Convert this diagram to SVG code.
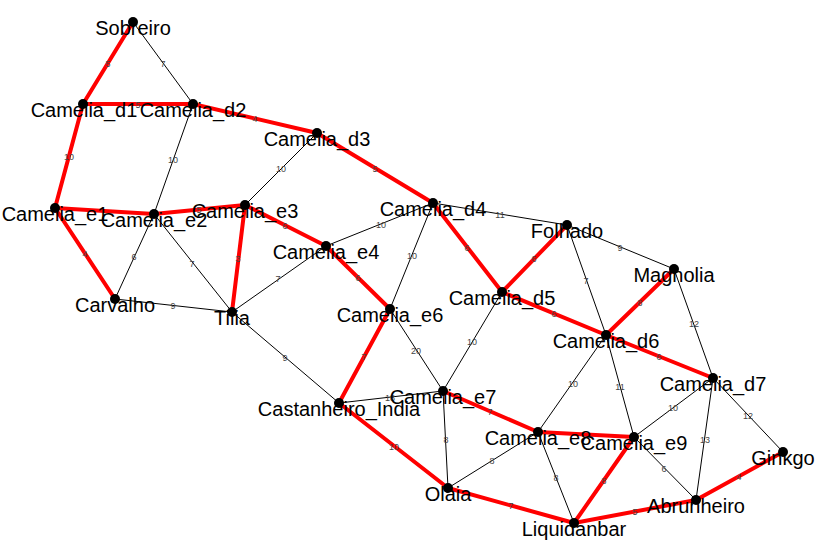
<svg xmlns="http://www.w3.org/2000/svg" width="823" height="543" viewBox="0 0 823 543">
  <style>
    .e { stroke: #000; stroke-width: 1; fill: none; }
    .t { stroke: #ff0000; stroke-width: 4; fill: none; stroke-linecap: round; }
    .w { font-family: "Liberation Sans", Arial, sans-serif; font-size: 9px; fill: #444; text-anchor: middle; }
    .n circle { fill: #000; }
    .n text { font-family: "Liberation Sans", Arial, sans-serif; font-size: 20px; fill: #000; text-anchor: middle; }
  </style>
  <rect width="823" height="543" fill="#fff"/>

  <g id="connectors">
    <!-- plain edges -->
    <line class="e" x1="133" y1="22" x2="193" y2="104"/>
    <line class="e" x1="193" y1="104" x2="154" y2="214"/>
    <line class="e" x1="317" y1="133" x2="245" y2="205"/>
    <line class="e" x1="154" y1="214" x2="115" y2="299"/>
    <line class="e" x1="154" y1="214" x2="232" y2="312"/>
    <line class="e" x1="115" y1="299" x2="232" y2="312"/>
    <line class="e" x1="232" y1="312" x2="326" y2="246"/>
    <line class="e" x1="232" y1="312" x2="339" y2="403"/>
    <line class="e" x1="326" y1="246" x2="433" y2="203"/>
    <line class="e" x1="433" y1="203" x2="390" y2="309"/>
    <line class="e" x1="433" y1="203" x2="567" y2="225"/>
    <line class="e" x1="567" y1="225" x2="674" y2="269"/>
    <line class="e" x1="567" y1="225" x2="606" y2="335"/>
    <line class="e" x1="674" y1="269" x2="713" y2="378"/>
    <line class="e" x1="390" y1="309" x2="443" y2="391"/>
    <line class="e" x1="502" y1="292" x2="443" y2="391"/>
    <line class="e" x1="339" y1="403" x2="443" y2="391"/>
    <line class="e" x1="443" y1="391" x2="448" y2="488"/>
    <line class="e" x1="448" y1="488" x2="538" y2="432"/>
    <line class="e" x1="538" y1="432" x2="574" y2="523"/>
    <line class="e" x1="606" y1="335" x2="538" y2="432"/>
    <line class="e" x1="606" y1="335" x2="634" y2="437"/>
    <line class="e" x1="634" y1="437" x2="713" y2="378"/>
    <line class="e" x1="634" y1="437" x2="696" y2="500"/>
    <line class="e" x1="713" y1="378" x2="696" y2="500"/>
    <line class="e" x1="713" y1="378" x2="783" y2="452"/>

    <!-- spanning tree edges -->
    <line class="t" x1="133" y1="22" x2="83" y2="104"/>
    <line class="t" x1="83" y1="104" x2="193" y2="104"/>
    <line class="t" x1="193" y1="104" x2="317" y2="133"/>
    <line class="t" x1="317" y1="133" x2="433" y2="203"/>
    <line class="t" x1="83" y1="104" x2="55" y2="208"/>
    <line class="t" x1="55" y1="208" x2="154" y2="214"/>
    <line class="t" x1="154" y1="214" x2="245" y2="205"/>
    <line class="t" x1="55" y1="208" x2="115" y2="299"/>
    <line class="t" x1="245" y1="205" x2="232" y2="312"/>
    <line class="t" x1="245" y1="205" x2="326" y2="246"/>
    <line class="t" x1="326" y1="246" x2="390" y2="309"/>
    <line class="t" x1="390" y1="309" x2="339" y2="403"/>
    <line class="t" x1="339" y1="403" x2="448" y2="488"/>
    <line class="t" x1="448" y1="488" x2="574" y2="523"/>
    <line class="t" x1="574" y1="523" x2="696" y2="500"/>
    <line class="t" x1="696" y1="500" x2="783" y2="452"/>
    <line class="t" x1="574" y1="523" x2="634" y2="437"/>
    <line class="t" x1="634" y1="437" x2="538" y2="432"/>
    <line class="t" x1="538" y1="432" x2="443" y2="391"/>
    <line class="t" x1="433" y1="203" x2="502" y2="292"/>
    <line class="t" x1="502" y1="292" x2="567" y2="225"/>
    <line class="t" x1="502" y1="292" x2="606" y2="335"/>
    <line class="t" x1="606" y1="335" x2="674" y2="269"/>
    <line class="t" x1="606" y1="335" x2="713" y2="378"/>

    <!-- edge weights -->
    <g>
      <text class="w" x="108" y="67">5</text>
      <text class="w" x="138" y="108">5</text>
      <text class="w" x="255" y="122">4</text>
      <text class="w" x="375" y="172">5</text>
      <text class="w" x="69" y="160">10</text>
      <text class="w" x="199" y="213">5</text>
      <text class="w" x="85" y="257">4</text>
      <text class="w" x="238" y="262">3</text>
      <text class="w" x="285" y="229">6</text>
      <text class="w" x="358" y="281">6</text>
      <text class="w" x="364" y="360">7</text>
      <text class="w" x="394" y="450">10</text>
      <text class="w" x="511" y="509">7</text>
      <text class="w" x="635" y="515">5</text>
      <text class="w" x="739" y="480">4</text>
      <text class="w" x="604" y="484">8</text>
      <text class="w" x="490" y="415">7</text>
      <text class="w" x="467" y="251">6</text>
      <text class="w" x="534" y="262">6</text>
      <text class="w" x="554" y="317">6</text>
      <text class="w" x="640" y="306">8</text>
      <text class="w" x="659" y="360">6</text>

      <text class="w" x="163" y="67">7</text>
      <text class="w" x="173" y="163">10</text>
      <text class="w" x="281" y="172">10</text>
      <text class="w" x="134" y="260">6</text>
      <text class="w" x="192" y="267">7</text>
      <text class="w" x="173" y="309">9</text>
      <text class="w" x="278" y="282">7</text>
      <text class="w" x="285" y="361">9</text>
      <text class="w" x="381" y="228">10</text>
      <text class="w" x="412" y="259">10</text>
      <text class="w" x="500" y="218">11</text>
      <text class="w" x="620" y="251">9</text>
      <text class="w" x="586" y="284">7</text>
      <text class="w" x="694" y="327">12</text>
      <text class="w" x="416" y="354">20</text>
      <text class="w" x="472" y="345">10</text>
      <text class="w" x="390" y="401">18</text>
      <text class="w" x="446" y="443">8</text>
      <text class="w" x="492" y="464">8</text>
      <text class="w" x="556" y="481">8</text>
      <text class="w" x="573" y="387">10</text>
      <text class="w" x="620" y="390">11</text>
      <text class="w" x="673" y="411">10</text>
      <text class="w" x="664" y="472">6</text>
      <text class="w" x="705" y="443">13</text>
      <text class="w" x="748" y="419">12</text>
    </g>
  </g>

  <g id="Sobreiro" class="n"><circle cx="133" cy="22" r="5"/><text x="133" y="35">Sobreiro</text></g>
  <g id="Camelia_d1" class="n"><circle cx="83" cy="104" r="5"/><text x="84" y="117">Camelia_d1</text></g>
  <g id="Camelia_d2" class="n"><circle cx="193" cy="104" r="5"/><text x="193" y="117">Camelia_d2</text></g>
  <g id="Camelia_d3" class="n"><circle cx="317" cy="133" r="5"/><text x="317" y="146">Camelia_d3</text></g>
  <g id="Camelia_d4" class="n"><circle cx="433" cy="203" r="5"/><text x="433" y="216">Camelia_d4</text></g>
  <g id="Camelia_e1" class="n"><circle cx="55" cy="208" r="5"/><text x="55" y="221">Camelia_e1</text></g>
  <g id="Camelia_e2" class="n"><circle cx="154" cy="214" r="5"/><text x="154" y="227">Camelia_e2</text></g>
  <g id="Camelia_e3" class="n"><circle cx="245" cy="205" r="5"/><text x="245" y="218">Camelia_e3</text></g>
  <g id="Camelia_e4" class="n"><circle cx="326" cy="246" r="5"/><text x="326" y="259">Camelia_e4</text></g>
  <g id="Carvalho" class="n"><circle cx="115" cy="299" r="5"/><text x="115" y="312">Carvalho</text></g>
  <g id="Tilia" class="n"><circle cx="232" cy="312" r="5"/><text x="232" y="325">Tilia</text></g>
  <g id="Camelia_e6" class="n"><circle cx="390" cy="309" r="5"/><text x="390" y="322">Camelia_e6</text></g>
  <g id="Folhado" class="n"><circle cx="567" cy="225" r="5"/><text x="567" y="238">Folhado</text></g>
  <g id="Magnolia" class="n"><circle cx="674" cy="269" r="5"/><text x="674" y="282">Magnolia</text></g>
  <g id="Camelia_d5" class="n"><circle cx="502" cy="292" r="5"/><text x="502" y="305">Camelia_d5</text></g>
  <g id="Camelia_d6" class="n"><circle cx="606" cy="335" r="5"/><text x="606" y="348">Camelia_d6</text></g>
  <g id="Camelia_d7" class="n"><circle cx="713" cy="378" r="5"/><text x="713" y="391">Camelia_d7</text></g>
  <g id="Ginkgo" class="n"><circle cx="783" cy="452" r="5"/><text x="783" y="465">Ginkgo</text></g>
  <g id="Castanheiro_India" class="n"><circle cx="339" cy="403" r="5"/><text x="339" y="416">Castanheiro_India</text></g>
  <g id="Camelia_e7" class="n"><circle cx="443" cy="391" r="5"/><text x="443" y="404">Camelia_e7</text></g>
  <g id="Olaia" class="n"><circle cx="448" cy="488" r="5"/><text x="448" y="501">Olaia</text></g>
  <g id="Camelia_e8" class="n"><circle cx="538" cy="432" r="5"/><text x="538" y="445">Camelia_e8</text></g>
  <g id="Camelia_e9" class="n"><circle cx="634" cy="437" r="5"/><text x="634" y="450">Camelia_e9</text></g>
  <g id="Liquidanbar" class="n"><circle cx="574" cy="523" r="5"/><text x="574" y="536">Liquidanbar</text></g>
  <g id="Abrunheiro" class="n"><circle cx="696" cy="500" r="5"/><text x="696" y="513">Abrunheiro</text></g>
</svg>
